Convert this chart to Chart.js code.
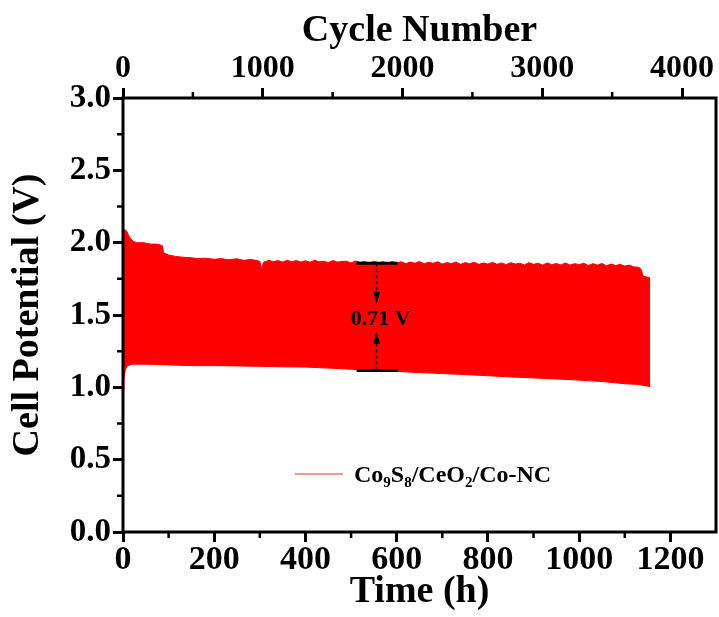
<!DOCTYPE html>
<html>
<head>
<meta charset="utf-8">
<script src="https://cdn.jsdelivr.net/npm/chart.js@4.4.1/dist/chart.umd.min.js"></script>
<style>
  html, body { margin: 0; padding: 0; background: #fff; }
  #wrap { width: 719px; height: 617px; }
</style>
</head>
<body>
<div id="wrap"><canvas id="chart" width="719" height="617"></canvas></div>
<script>
// upper (charge) envelope of the cycling trace
var timeUpper = [0, 1, 4, 8, 14, 22, 30, 45, 60, 75, 86, 89, 100, 115, 130, 150, 165, 180, 200, 215,
  230, 250, 265, 280, 295, 300, 304, 308, 320, 330, 340, 350, 360, 370, 380, 390,
  400, 410, 420, 430, 440, 450, 460, 470, 480, 490, 500, 510, 520, 530, 540, 550, 560, 570, 580, 590,
  600, 610, 620, 630, 640, 650, 660, 670, 680, 690, 700, 710, 720, 730, 740, 750, 760, 770, 780, 790,
  800, 810, 820, 830, 840, 850, 860, 870, 880, 890, 900, 910, 920, 930, 940, 950, 960, 970, 980, 990,
  1000, 1010, 1020, 1030, 1040, 1050, 1060, 1070, 1080, 1090, 1100, 1110, 1120, 1130, 1135, 1140, 1156];
var voltUpper = [2.00, 2.05, 2.09, 2.08, 2.04, 2.01, 2.00, 2.00, 1.99, 1.99, 1.98, 1.93, 1.915, 1.905, 1.90, 1.895, 1.89, 1.893, 1.885, 1.89,
  1.882, 1.888, 1.878, 1.884, 1.876, 1.87, 1.82, 1.865, 1.878, 1.868, 1.876, 1.866, 1.878, 1.868, 1.876, 1.866,
  1.875, 1.865, 1.878, 1.868, 1.872, 1.862, 1.876, 1.866, 1.87, 1.872, 1.86, 1.874, 1.864, 1.87, 1.858, 1.872, 1.862, 1.868, 1.856, 1.87,
  1.86, 1.868, 1.855, 1.866, 1.858, 1.87, 1.854, 1.864, 1.858, 1.868, 1.852, 1.862, 1.856, 1.866, 1.85, 1.862, 1.855, 1.865, 1.85, 1.86,
  1.852, 1.864, 1.85, 1.86, 1.848, 1.862, 1.852, 1.858, 1.846, 1.862, 1.85, 1.858, 1.845, 1.86, 1.848, 1.856, 1.846, 1.86, 1.845, 1.855,
  1.848, 1.858, 1.842, 1.855, 1.845, 1.856, 1.84, 1.852, 1.842, 1.85, 1.838, 1.845, 1.832, 1.83, 1.82, 1.77, 1.755];

// lower (discharge) envelope
var timeLower = [0, 2, 5, 10, 20, 50, 100, 150, 200, 250, 300, 350, 400, 450, 500, 556, 600, 650, 700, 750,
  800, 850, 900, 950, 1000, 1050, 1100, 1130, 1156];
var voltLower = [0.98, 1.06, 1.12, 1.15, 1.16, 1.16, 1.155, 1.15, 1.15, 1.148, 1.145, 1.142, 1.14, 1.133, 1.125, 1.117, 1.11, 1.102, 1.095, 1.088,
  1.08, 1.072, 1.065, 1.058, 1.05, 1.04, 1.025, 1.02, 1.005];

var timeTicks = [0, 200, 400, 600, 800, 1000, 1200];
var cycleTicks = [0, 1000, 2000, 3000, 4000];
var voltTicks = [0, 0.5, 1.0, 1.5, 2.0, 2.5, 3.0];
var minorTime = [100, 300, 500, 700, 900, 1100];
var minorCycle = [500, 1500, 2500, 3500];
var minorVolt = [0.25, 0.75, 1.25, 1.75, 2.25, 2.75];

// potential gap marker
var gapTime = 556, gapHigh = 1.858, gapLow = 1.117, gapLabel = '0.71 V';

var SERIF = "'Liberation Serif', 'Times New Roman', serif";

function pts(xs, ys) {
  return xs.map(function (x, i) { return { x: x, y: ys[i] }; });
}
function fixTicks(list) {
  return function (s) { s.ticks = list.map(function (v) { return { value: v }; }); };
}

var extras = {
  id: 'extras',
  afterDraw: function (chart) {
    var ctx = chart.ctx, a = chart.chartArea;
    var sx = chart.scales.x, sx2 = chart.scales.x2, sy = chart.scales.y;
    ctx.save();
    ctx.strokeStyle = '#000';
    ctx.fillStyle = '#000';

    // minor ticks
    ctx.lineWidth = 2.5;
    ctx.beginPath();
    minorTime.forEach(function (v) { var p = sx.getPixelForValue(v); ctx.moveTo(p, a.bottom); ctx.lineTo(p, a.bottom + 6); });
    minorCycle.forEach(function (v) { var p = sx2.getPixelForValue(v); ctx.moveTo(p, a.top); ctx.lineTo(p, a.top - 6); });
    minorVolt.forEach(function (v) { var p = sy.getPixelForValue(v); ctx.moveTo(a.left, p); ctx.lineTo(a.left - 6, p); });
    ctx.stroke();

    // frame
    ctx.lineWidth = 3;
    ctx.strokeRect(a.left, a.top, a.right - a.left, a.bottom - a.top);

    // gap annotation
    var gx = sx.getPixelForValue(gapTime);
    var yt = sy.getPixelForValue(gapHigh), yb = sy.getPixelForValue(gapLow);
    var ym = (yt + yb) / 2 + 3;
    ctx.lineWidth = 3;
    ctx.beginPath();
    ctx.moveTo(gx - 20, yt); ctx.lineTo(gx + 21, yt);
    ctx.moveTo(gx - 20, yb); ctx.lineTo(gx + 21, yb);
    ctx.stroke();
    ctx.lineWidth = 1.5;
    ctx.setLineDash([3, 3]);
    ctx.beginPath();
    ctx.moveTo(gx, yt); ctx.lineTo(gx, ym - 22);
    ctx.moveTo(gx, yb); ctx.lineTo(gx, ym + 22);
    ctx.stroke();
    ctx.setLineDash([]);
    ctx.beginPath();
    ctx.moveTo(gx, ym - 16); ctx.lineTo(gx - 3.5, ym - 28); ctx.lineTo(gx + 3.5, ym - 28); ctx.closePath();
    ctx.moveTo(gx, ym + 12); ctx.lineTo(gx - 3.5, ym + 24); ctx.lineTo(gx + 3.5, ym + 24); ctx.closePath();
    ctx.fill();
    ctx.font = 'bold 22px ' + SERIF;
    ctx.textAlign = 'center';
    ctx.textBaseline = 'middle';
    ctx.fillText(gapLabel, gx + 4, ym);

    // legend
    ctx.strokeStyle = '#e8302f';
    ctx.lineWidth = 1;
    ctx.beginPath();
    ctx.moveTo(295, 474); ctx.lineTo(343, 474);
    ctx.stroke();
    var parts = [['Co', 0], ['9', 1], ['S', 0], ['8', 1], ['/CeO', 0], ['2', 1], ['/Co-NC', 0]];
    var lx = 354, base = 482;
    ctx.textAlign = 'left';
    ctx.textBaseline = 'alphabetic';
    parts.forEach(function (p) {
      ctx.font = p[1] ? 'bold 15px ' + SERIF : 'bold 24px ' + SERIF;
      ctx.fillText(p[0], lx, base + (p[1] ? 5 : 0));
      lx += ctx.measureText(p[0]).width;
    });
    ctx.restore();
  }
};

var axisCommon = {
  type: 'linear',
  grid: { drawOnChartArea: false, tickLength: 10, tickWidth: 3, tickColor: '#000' },
  border: { display: false }
};

new Chart(document.getElementById('chart'), {
  type: 'line',
  data: {
    datasets: [
      { label: 'upper', data: pts(timeUpper, voltUpper), borderColor: '#ff0000', borderWidth: 1,
        pointRadius: 0, fill: false, xAxisID: 'x', yAxisID: 'y' },
      { label: 'Co9S8/CeO2/Co-NC', data: pts(timeLower, voltLower), borderColor: '#ff0000', borderWidth: 1,
        backgroundColor: '#ff0000', pointRadius: 0, fill: '-1', xAxisID: 'x', yAxisID: 'y' }
    ]
  },
  options: {
    responsive: false,
    animation: false,
    devicePixelRatio: 1,
    layout: { padding: { left: 0, right: 3, top: 0, bottom: 0 } },
    plugins: { legend: { display: false }, tooltip: { enabled: false } },
    scales: {
      x: Object.assign({}, axisCommon, {
        position: 'bottom', min: 0, max: 1300,
        afterBuildTicks: fixTicks(timeTicks),
        ticks: { color: '#000', padding: -2, callback: function (v) { return String(v); },
          font: { family: SERIF, size: 34, weight: 'bold' } },
        title: { display: true, text: 'Time (h)', color: '#000', padding: { top: 0, bottom: 2 },
          font: { family: SERIF, size: 38, weight: 'bold' } },
        afterFit: function (s) { s.height = 85; }
      }),
      x2: Object.assign({}, axisCommon, {
        position: 'top', min: 0, max: 4243,
        afterBuildTicks: fixTicks(cycleTicks),
        ticks: { color: '#000', padding: 0, callback: function (v) { return String(v); },
          font: { family: SERIF, size: 32, weight: 'bold' } },
        title: { display: true, text: 'Cycle Number', color: '#000', padding: { top: 8, bottom: 0 },
          font: { family: SERIF, size: 38, weight: 'bold' } },
        afterFit: function (s) { s.height = 98; }
      }),
      y: Object.assign({}, axisCommon, {
        position: 'left', min: 0, max: 3,
        afterBuildTicks: fixTicks(voltTicks),
        ticks: { color: '#000', padding: 2,
          font: { family: SERIF, size: 33, weight: 'bold' },
          callback: function (v) { return Number(v).toFixed(1); } },
        title: { display: true, text: 'Cell Potential (V)', color: '#000', padding: { top: 5, bottom: 0 },
          font: { family: SERIF, size: 38, weight: 'bold' } },
        afterFit: function (s) { s.width = 123; }
      })
    }
  },
  plugins: [extras]
});
</script>
</body>
</html>
